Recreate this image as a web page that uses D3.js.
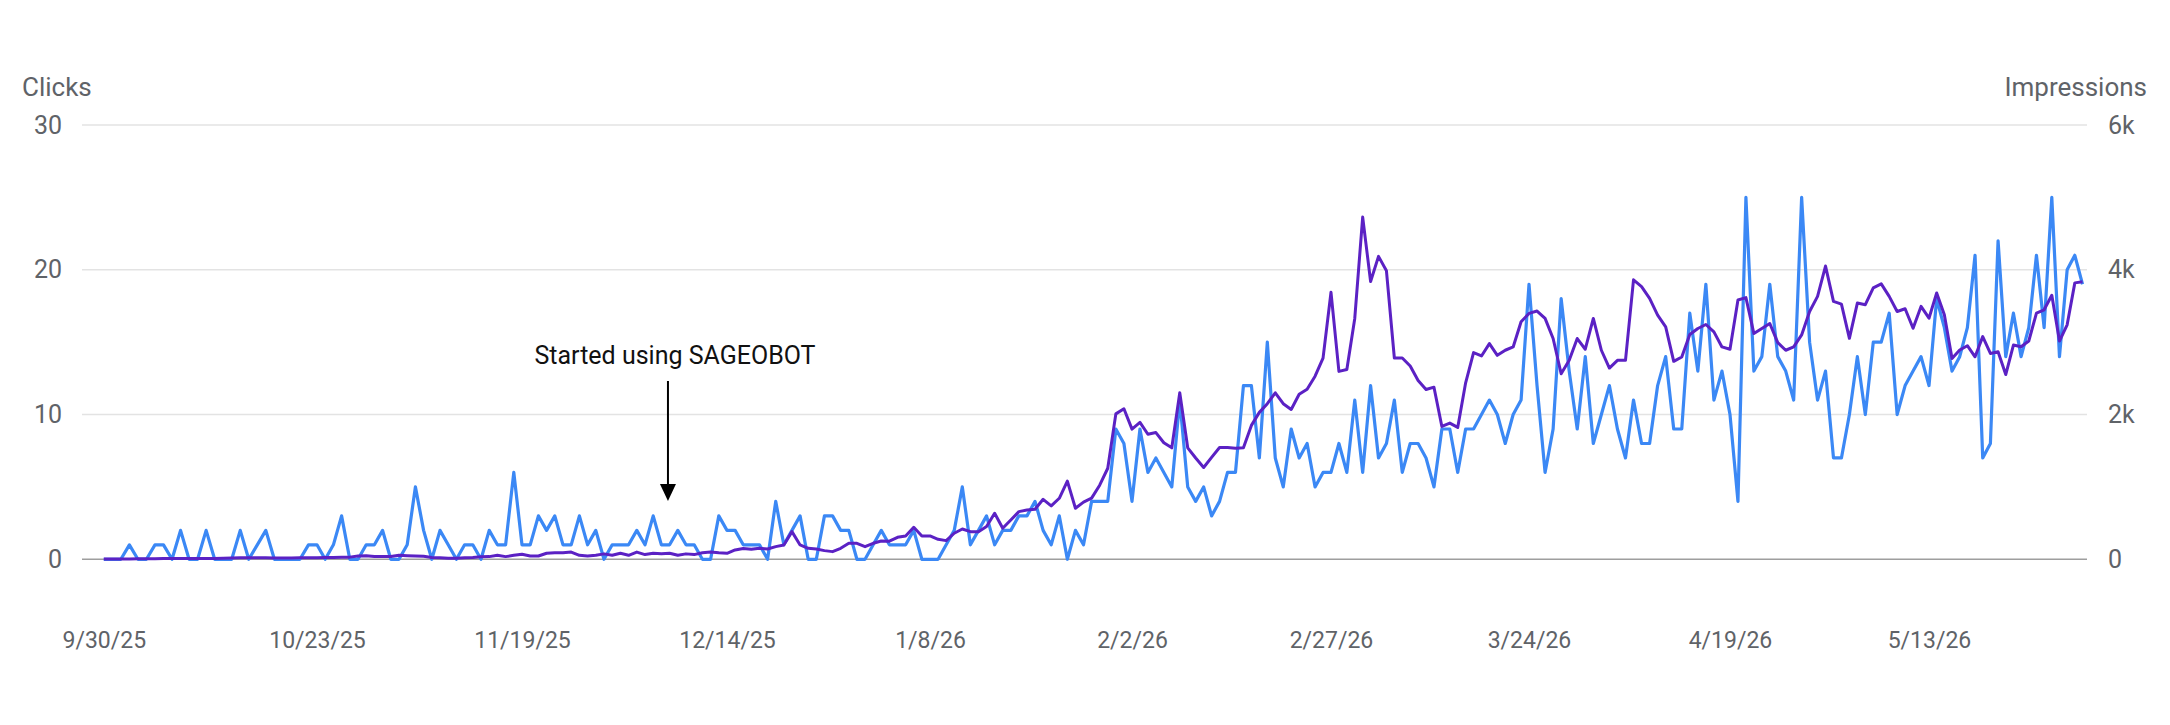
<!DOCTYPE html>
<html><head><meta charset="utf-8">
<script src="https://cdn.jsdelivr.net/npm/d3@7"></script>
<style>body{margin:0;background:#fff;} svg{display:block;font-family:Roboto, "Noto Sans", sans-serif;}</style>
</head><body><svg id="c" width="2170" height="725"></svg>
<script>
const clicks = [
0,0,0,1,0,0,1,1,0,2, 0,0,2,0,0,0,2,0,1,2, 0,0,0,0,1,1,0,1,3,0, 0,1,1,2,0,0,1,5,2,0,
2,1,0,1,1,0,2,1,1,6, 1,1,3,2,3,1,1,3,1,2, 0,1,1,1,2,1,3,1,1,2, 1,1,0,0,3,2,2,1,1,1,
0,4,1,2,3,0,0,3,3,2, 2,0,0,1,2,1,1,1,2,0, 0,0,1,2,5,1,2,3,1,2, 2,3,3,4,2,1,3,0,2,1,
4,4,4,9,8,4,9,6,7,6, 5,11,5,4,5,3,4,6,6,12, 12,7,15,7,5,9,7,8,5,6, 6,8,6,11,6,12,7,8,11,6,
8,8,7,5,9,9,6,9,9,10, 11,10,8,10,11,19,12,6,9,18, 13,9,14,8,10,12,9,7,11,8, 8,12,14,9,9,17,13,19,11,13,
10,4,25,13,14,19,14,13,11,25, 15,11,13,7,7,10,14,10,15,15, 17,10,12,13,14,12,18,16,13,14, 16,21,7,8,22,14,17,14,16,21,
16,25,14,20,21,19];
const impressions = [
5,5,5,5,8,8,8,10,10,10, 10,12,12,12,14,18,20,20,20,20, 18,18,18,20,20,22,24,26,28,30, 45,50,40,40,40,55,50,45,42,25,
20,15,15,20,25,35,37,55,37,55, 70,45,45,83,92,92,100,55,45,55, 75,55,83,55,100,65,83,75,83,55, 75,65,90,100,90,83,129,150,140,152,
143,175,198,382,198,152,143,120,106,152, 221,221,175,221,253,250,304,323,442,323, 323,276,258,360,419,382,382,452,636,429, 544,659,682,691,829,737,843,1080,705,790,
845,1024,1258,2009,2080,1798,1892,1728,1751,1610, 1540,2300,1540,1399,1268,1409,1545,1545,1535,1540, 1850,2030,2150,2300,2150,2070,2280,2350,2530,2780, 3689,2596,2623,3328,4728,3838,4185,3986,2781,2781,
2670,2470,2345,2378,1835,1882,1822,2438,2855,2809, 2980,2818,2888,2934,3282,3397,3430,3328,3050,2563, 2749,3050,2902,3328,2888,2642,2749,2749,3861,3768, 3606,3374,3212,2735,2795,3105,3189,3244,3142,2934,
2902,3583,3615,3119,3189,3258,2994,2888,2934,3100, 3424,3633,4051,3564,3526,3053,3540,3517,3749,3805, 3633,3424,3461,3192,3494,3331,3680,3378,2775,2891, 2951,2798,3076,2844,2867,2552,2960,2937,3016,3401,
3447,3647,3016,3239,3819,3833];
const tickIndex = [0, 25, 50, 75, 100, 125, 150, 175, 200, 225];
const tickLabels = ["9/30/25","10/23/25","11/19/25","12/14/25","1/8/26","2/2/26","2/27/26","3/24/26","4/19/26","5/13/26"];
const clickTicks = [0, 10, 20, 30];
const imprTicks = [0, 2000, 4000, 6000];
const annotationIndex = 67.8;
const annotationText = "Started using SAGEOBOT";

// pixel positions of the tick labels along the bottom axis (layout), plus the plot end
const tickX = [103.8, 317, 522, 727, 930, 1132, 1331, 1529, 1730, 1929];
const plotEndX = 2082.5;

const svg = d3.select("#c");
const N = clicks.length;
const x = d3.scaleLinear().domain(tickIndex.concat([N - 1])).range(tickX.concat([plotEndX]));
const yL = d3.scaleLinear().domain([0, 30]).range([559.3, 125]);
const yR = d3.scaleLinear().domain([0, 6000]).range([559.3, 125]);

// gridlines
svg.append("g").selectAll("line").data(clickTicks.filter(d => d > 0)).join("line")
  .attr("x1", 82).attr("x2", 2087)
  .attr("y1", d => yL(d)).attr("y2", d => yL(d))
  .attr("stroke", "#e3e3e3").attr("stroke-width", 1.5);
svg.append("line").attr("x1", 82).attr("x2", 2087).attr("y1", yL(0)).attr("y2", yL(0))
  .attr("stroke", "#9e9e9e").attr("stroke-width", 1.5);

// axes
const axL = d3.axisLeft(yL).tickValues(clickTicks).tickSize(0).tickPadding(0);
const gL = svg.append("g").attr("transform", "translate(62,0)").call(axL);
gL.select(".domain").remove();
gL.selectAll("text").attr("font-size", 25).attr("fill", "#5f6368").attr("font-family", "Roboto");

const axR = d3.axisRight(yR).tickValues(imprTicks).tickSize(0).tickPadding(0)
  .tickFormat(d => d === 0 ? "0" : (d / 1000) + "k");
const gR = svg.append("g").attr("transform", "translate(2108,0)").call(axR);
gR.select(".domain").remove();
gR.selectAll("text").attr("font-size", 25).attr("fill", "#5f6368").attr("font-family", "Roboto");

const axB = d3.axisBottom(x).tickValues(tickIndex).tickSize(0).tickPadding(0)
  .tickFormat((d, i) => tickLabels[i]);
const gB = svg.append("g").attr("transform", "translate(0,632)").call(axB);
gB.select(".domain").remove();
gB.selectAll("text").attr("font-size", 23).attr("fill", "#5f6368").attr("font-family", "Roboto");

svg.append("text").attr("x", 22).attr("y", 96).attr("font-size", 26).attr("fill", "#5f6368").text("Clicks");
svg.append("text").attr("x", 2147).attr("y", 96).attr("text-anchor", "end").attr("font-size", 26).attr("fill", "#5f6368").text("Impressions");

// lines
const lineC = d3.line().x((d, i) => x(i)).y(d => yL(d));
const lineI = d3.line().x((d, i) => x(i)).y(d => yR(d));
svg.append("path").datum(clicks).attr("d", lineC).attr("fill", "none")
  .attr("stroke", "#3b88f5").attr("stroke-width", 3.2).attr("stroke-linejoin", "round");
svg.append("path").datum(impressions).attr("d", lineI).attr("fill", "none")
  .attr("stroke", "#5b21c4").attr("stroke-width", 3).attr("stroke-linejoin", "round");

// annotation
const ax = x(annotationIndex);
svg.append("text").attr("x", 675).attr("y", 364).attr("text-anchor", "middle")
  .attr("font-size", 25).attr("fill", "#111").text(annotationText);
svg.append("line").attr("x1", ax).attr("x2", ax).attr("y1", 381).attr("y2", 488)
  .attr("stroke", "#000").attr("stroke-width", 2);
svg.append("path").attr("d", `M${ax - 8},${484} L${ax + 8},${484} L${ax},${501} Z`).attr("fill", "#000");
</script></body></html>
